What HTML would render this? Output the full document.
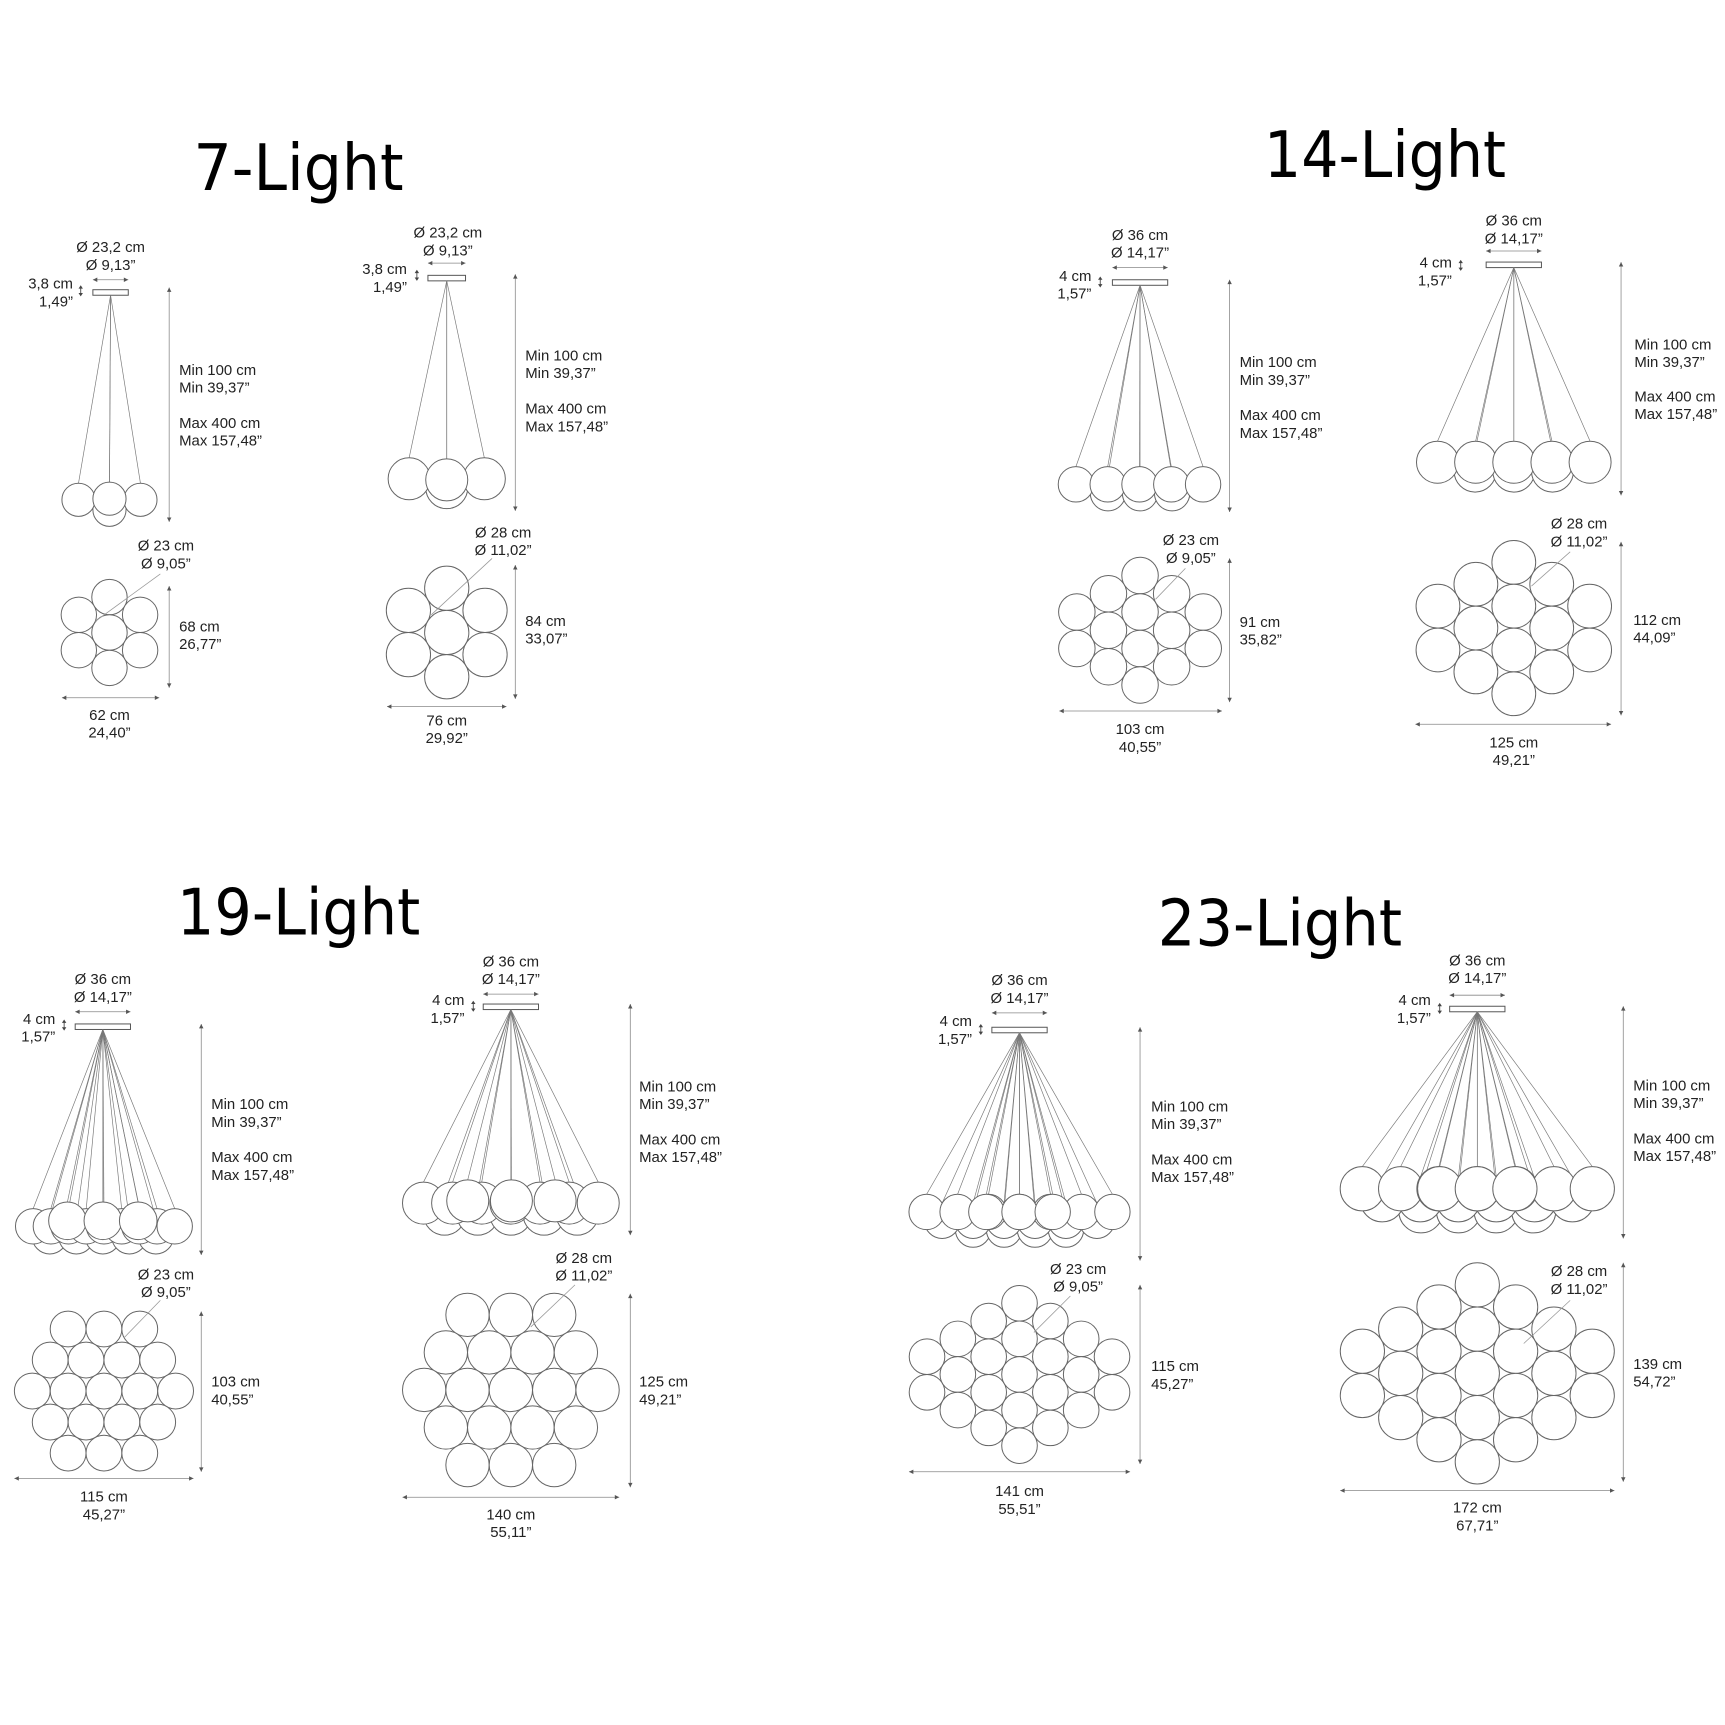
<!DOCTYPE html>
<html><head><meta charset="utf-8"><style>
html,body{margin:0;padding:0;background:#fff}
svg{display:block}
.t{font-family:"DejaVu Sans","Liberation Sans",sans-serif;font-size:58px;fill:#000}
.l{font-family:"Liberation Sans",sans-serif;font-size:13.5px;fill:#222}
.c{text-anchor:middle}.r{text-anchor:end}
</style></head><body>
<svg id="svg" width="1725" height="1725" viewBox="0 0 1560 1560" xmlns="http://www.w3.org/2000/svg">
<g id="s" fill="#fff" stroke="#666" stroke-width="0.9"></g>
<g>
<text class="t" x="175" y="172" textLength="190" lengthAdjust="spacingAndGlyphs">7-Light</text>
<text class="t" x="1143" y="160" textLength="219" lengthAdjust="spacingAndGlyphs">14-Light</text>
<text class="t" x="160" y="845" textLength="220" lengthAdjust="spacingAndGlyphs">19-Light</text>
<text class="t" x="1047" y="855" textLength="221" lengthAdjust="spacingAndGlyphs">23-Light</text>

<!-- 7L left side -->
<text class="l c" x="100" y="228">Ø 23,2 cm</text><text class="l c" x="100" y="244">Ø 9,13”</text>
<text class="l r" x="66" y="261">3,8 cm</text><text class="l r" x="66" y="277">1,49”</text>
<text class="l" x="162" y="339">Min 100 cm</text><text class="l" x="162" y="355">Min 39,37”</text>
<text class="l" x="162" y="387">Max 400 cm</text><text class="l" x="162" y="403">Max 157,48”</text>
<!-- 7L right side -->
<text class="l c" x="405" y="215">Ø 23,2 cm</text><text class="l c" x="405" y="231">Ø 9,13”</text>
<text class="l r" x="368" y="248">3,8 cm</text><text class="l r" x="368" y="264">1,49”</text>
<text class="l" x="475" y="326">Min 100 cm</text><text class="l" x="475" y="342">Min 39,37”</text>
<text class="l" x="475" y="374">Max 400 cm</text><text class="l" x="475" y="390">Max 157,48”</text>
<!-- 7L tops -->
<text class="l c" x="150" y="498">Ø 23 cm</text><text class="l c" x="150" y="514">Ø 9,05”</text>
<text class="l" x="162" y="571">68 cm</text><text class="l" x="162" y="587">26,77”</text>
<text class="l c" x="99" y="651">62 cm</text><text class="l c" x="99" y="667">24,40”</text>
<text class="l c" x="455" y="486">Ø 28 cm</text><text class="l c" x="455" y="502">Ø 11,02”</text>
<text class="l" x="475" y="566">84 cm</text><text class="l" x="475" y="582">33,07”</text>
<text class="l c" x="404" y="656">76 cm</text><text class="l c" x="404" y="672">29,92”</text>

<!-- 14L -->
<text class="l c" x="1031" y="217">Ø 36 cm</text><text class="l c" x="1031" y="233">Ø 14,17”</text>
<text class="l r" x="987" y="254">4 cm</text><text class="l r" x="987" y="270">1,57”</text>
<text class="l" x="1121" y="332">Min 100 cm</text><text class="l" x="1121" y="348">Min 39,37”</text>
<text class="l" x="1121" y="380">Max 400 cm</text><text class="l" x="1121" y="396">Max 157,48”</text>
<text class="l c" x="1369" y="204">Ø 36 cm</text><text class="l c" x="1369" y="220">Ø 14,17”</text>
<text class="l r" x="1313" y="242">4 cm</text><text class="l r" x="1313" y="258">1,57”</text>
<text class="l" x="1478" y="316">Min 100 cm</text><text class="l" x="1478" y="332">Min 39,37”</text>
<text class="l" x="1478" y="363">Max 400 cm</text><text class="l" x="1478" y="379">Max 157,48”</text>
<text class="l c" x="1077" y="493">Ø 23 cm</text><text class="l c" x="1077" y="509">Ø 9,05”</text>
<text class="l" x="1121" y="567">91 cm</text><text class="l" x="1121" y="583">35,82”</text>
<text class="l c" x="1031" y="664">103 cm</text><text class="l c" x="1031" y="680">40,55”</text>
<text class="l c" x="1428" y="478">Ø 28 cm</text><text class="l c" x="1428" y="494">Ø 11,02”</text>
<text class="l" x="1477" y="565">112 cm</text><text class="l" x="1477" y="581">44,09”</text>
<text class="l c" x="1369" y="676">125 cm</text><text class="l c" x="1369" y="692">49,21”</text>

<!-- 19L -->
<text class="l c" x="93" y="890">Ø 36 cm</text><text class="l c" x="93" y="906">Ø 14,17”</text>
<text class="l r" x="50" y="926">4 cm</text><text class="l r" x="50" y="942">1,57”</text>
<text class="l" x="191" y="1003">Min 100 cm</text><text class="l" x="191" y="1019">Min 39,37”</text>
<text class="l" x="191" y="1051">Max 400 cm</text><text class="l" x="191" y="1067">Max 157,48”</text>
<text class="l c" x="462" y="874">Ø 36 cm</text><text class="l c" x="462" y="890">Ø 14,17”</text>
<text class="l r" x="420" y="909">4 cm</text><text class="l r" x="420" y="925">1,57”</text>
<text class="l" x="578" y="987">Min 100 cm</text><text class="l" x="578" y="1003">Min 39,37”</text>
<text class="l" x="578" y="1035">Max 400 cm</text><text class="l" x="578" y="1051">Max 157,48”</text>
<text class="l c" x="150" y="1157">Ø 23 cm</text><text class="l c" x="150" y="1173">Ø 9,05”</text>
<text class="l" x="191" y="1254">103 cm</text><text class="l" x="191" y="1270">40,55”</text>
<text class="l c" x="94" y="1358">115 cm</text><text class="l c" x="94" y="1374">45,27”</text>
<text class="l c" x="528" y="1142">Ø 28 cm</text><text class="l c" x="528" y="1158">Ø 11,02”</text>
<text class="l" x="578" y="1254">125 cm</text><text class="l" x="578" y="1270">49,21”</text>
<text class="l c" x="462" y="1374">140 cm</text><text class="l c" x="462" y="1390">55,11”</text>

<!-- 23L -->
<text class="l c" x="922" y="891">Ø 36 cm</text><text class="l c" x="922" y="907">Ø 14,17”</text>
<text class="l r" x="879" y="928">4 cm</text><text class="l r" x="879" y="944">1,57”</text>
<text class="l" x="1041" y="1005">Min 100 cm</text><text class="l" x="1041" y="1021">Min 39,37”</text>
<text class="l" x="1041" y="1053">Max 400 cm</text><text class="l" x="1041" y="1069">Max 157,48”</text>
<text class="l c" x="1336" y="873">Ø 36 cm</text><text class="l c" x="1336" y="889">Ø 14,17”</text>
<text class="l r" x="1294" y="909">4 cm</text><text class="l r" x="1294" y="925">1,57”</text>
<text class="l" x="1477" y="986">Min 100 cm</text><text class="l" x="1477" y="1002">Min 39,37”</text>
<text class="l" x="1477" y="1034">Max 400 cm</text><text class="l" x="1477" y="1050">Max 157,48”</text>
<text class="l c" x="975" y="1152">Ø 23 cm</text><text class="l c" x="975" y="1168">Ø 9,05”</text>
<text class="l" x="1041" y="1240">115 cm</text><text class="l" x="1041" y="1256">45,27”</text>
<text class="l c" x="922" y="1353">141 cm</text><text class="l c" x="922" y="1369">55,51”</text>
<text class="l c" x="1428" y="1154">Ø 28 cm</text><text class="l c" x="1428" y="1170">Ø 11,02”</text>
<text class="l" x="1477" y="1238">139 cm</text><text class="l" x="1477" y="1254">54,72”</text>
<text class="l c" x="1336" y="1368">172 cm</text><text class="l c" x="1336" y="1384">67,71”</text>
</g>
</svg>
<script>
var g=document.getElementById('s'),NS='http://www.w3.org/2000/svg';
function el(n,a){var e=document.createElementNS(NS,n);for(var k in a)e.setAttribute(k,a[k]);g.appendChild(e);return e;}
function circ(x,y,r){el('circle',{cx:x,cy:y,r:r});}
function line(x1,y1,x2,y2,c,w){el('line',{x1:x1,y1:y1,x2:x2,y2:y2,stroke:c||'#888','stroke-width':w||0.7});}
function vdim(x,y1,y2){line(x,y1,x2=x,y2);el('path',{d:'M'+(x-2)+','+(y1+4)+'L'+x+','+y1+'L'+(x+2)+','+(y1+4)+'Z',fill:'#555',stroke:'none'});el('path',{d:'M'+(x-2)+','+(y2-4)+'L'+x+','+y2+'L'+(x+2)+','+(y2-4)+'Z',fill:'#555',stroke:'none'});}
function hdim(y,x1,x2){line(x1,y,x2,y);el('path',{d:'M'+(x1+4)+','+(y-2)+'L'+x1+','+y+'L'+(x1+4)+','+(y+2)+'Z',fill:'#555',stroke:'none'});el('path',{d:'M'+(x2-4)+','+(y-2)+'L'+x2+','+y+'L'+(x2-4)+','+(y+2)+'Z',fill:'#555',stroke:'none'});}
function ud(x,y){line(x,y-4,x,y+4,'#444',0.8);el('path',{d:'M'+(x-2)+','+(y-2)+'L'+x+','+(y-5)+'L'+(x+2)+','+(y-2)+'Z',fill:'#444',stroke:'none'});el('path',{d:'M'+(x-2)+','+(y+2)+'L'+x+','+(y+5)+'L'+(x+2)+','+(y+2)+'Z',fill:'#444',stroke:'none'});}
// side view
function side(cx,cy,hw,balls,dimx,dimTop,dimBot,arrY,udx,udy){
  el('rect',{x:cx-hw,y:cy,width:2*hw,height:5,fill:'#fff',stroke:'#555','stroke-width':0.9});
  hdim(arrY,cx-hw,cx+hw);ud(udx,udy);vdim(dimx,dimTop,dimBot);
  balls.forEach(function(b){line(cx,cy+5,b[0],b[1]-b[2],'#777',0.6);});
  balls.forEach(function(b){circ(b[0],b[1],b[2]);});
}
// top view columns
function cols(cx,cy,r,counts,horiz){
  var n=counts.length,d=r*Math.sqrt(3),pts=[];
  counts.forEach(function(c,i){var off=(i-(n-1)/2)*d;for(var j=0;j<c;j++){var o2=(j-(c-1)/2)*2*r;pts.push(horiz?[cx+o2,cy+off]:[cx+off,cy+o2]);}});
  pts.forEach(function(p){circ(p[0],p[1],r);});
}
function diag(x1,y1,x2,y2){line(x1,y1,x2,y2,'#999',0.7);}
function row(y,x1,x2,n,r){var a=[];for(var i=0;i<n;i++)a.push([x1+(x2-x1)*i/(n-1),y,r]);return a;}

// 7L
side(100,262,16,[[99,461,15],[71,452,15],[127,452,15],[99,451,15]],153,260,472,253,73,263);
side(404,249,17,[[404,441,19],[370,433,19],[438,433,19],[404,434,19]],466,248,462,238,377,249);
cols(99,572,16,[2,3,2]);diag(145,519,86,562);vdim(153,530,622);hdim(631,56,144);
cols(404,572,20,[2,3,2]);diag(445,505,390,556);vdim(466,511,632);hdim(639,350,458);
// 14L
side(1031,253,25,row(446,1002,1060,3,16).concat(row(438,973,1088,5,16)),1112,253,463,242,995,255);
side(1369,237,25,row(426,1334,1404,3,19).concat(row(418,1300,1438,5,19)),1466,237,448,227,1321,240);
cols(1031,570,16.5,[2,3,4,3,2]);diag(1072,514,1045,542);vdim(1112,505,635);hdim(643,958,1105);
cols(1369,568,19.8,[2,3,4,3,2]);diag(1420,499,1385,530);vdim(1466,490,647);hdim(655,1280,1457);
// 19L
side(93,926,25,row(1118,45,141,5,16).concat(row(1109,30,158,9,16)).concat(row(1104,61,125,3,17)),182,926,1135,915,58,927);
side(462,908,25,row(1098,402,522,5,19).concat(row(1088,383,541,7,19)).concat(row(1086,423,502,3,19)),570,908,1117,899,428,910);
cols(94,1258,16.2,[3,4,5,4,3],true);diag(145,1176,112,1210);vdim(182,1186,1331);hdim(1337,13,175);
cols(462,1257,19.6,[3,4,5,4,3],true);diag(520,1162,480,1200);vdim(570,1170,1345);hdim(1354,364,560);
// 23L
side(922,929,25,row(1112,880,964,4,16).concat(row(1104,852,992,6,16)).concat(row(1096,838,1006,7,16)).concat(row(1096,892,952,3,16)),1031,929,1140,916,887,931);
side(1336,910,25,row(1095,1285,1387,4,20).concat(row(1085,1250,1422,6,20)).concat(row(1075,1232,1440,7,20)).concat(row(1075,1302,1370,3,20)),1468,910,1120,900,1302,912);
cols(922,1243,16.1,[2,3,4,5,4,3,2]);diag(968,1172,935,1205);vdim(1031,1162,1324);hdim(1331,822,1022);
cols(1336,1242,20,[2,3,4,5,4,3,2]);diag(1420,1176,1378,1215);vdim(1468,1142,1340);hdim(1348,1212,1460);
</script>
</body></html>
